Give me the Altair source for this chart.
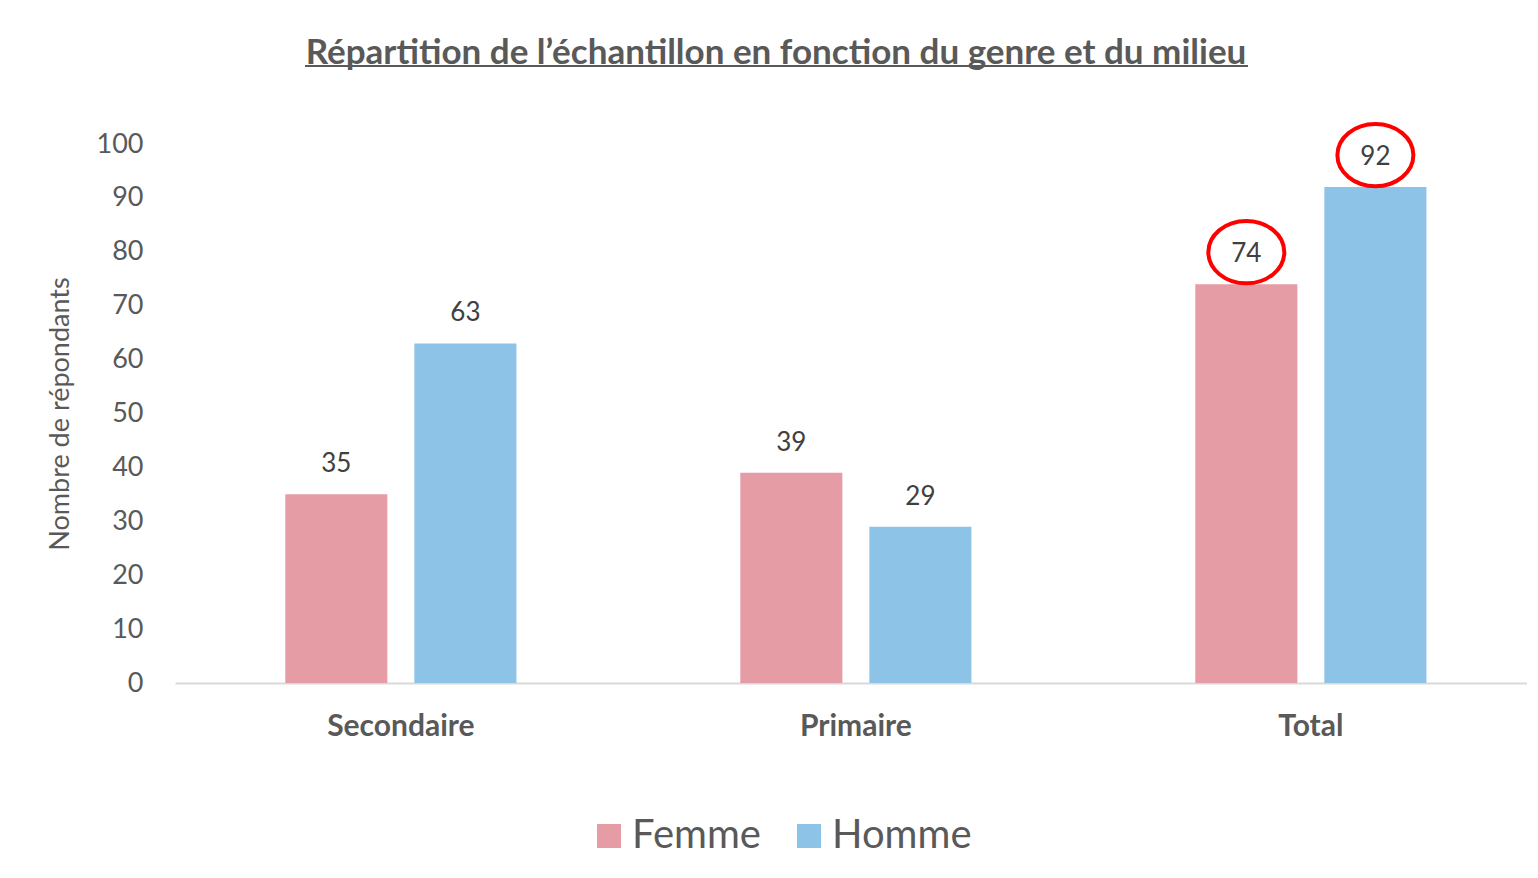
import altair as alt
import pandas as pd

categories = ["Secondaire", "Primaire", "Total"]
genres = ["Femme", "Homme"]
femme = [35, 39, 74]
homme = [63, 29, 92]
highlighted = ["Total"]

colors = ["#E59CA5", "#8CC3E6"]
FONT = "Lato"
GREY = "#595959"

rows = []
for c, f, h in zip(categories, femme, homme):
    rows.append({"cat": c, "genre": "Femme", "val": f})
    rows.append({"cat": c, "genre": "Homme", "val": h})
df = pd.DataFrame(rows)

W, H = 1352, 539

x = alt.X("cat:N", sort=categories, title=None,
          scale=alt.Scale(paddingInner=0.492, paddingOuter=0.2317, align=0.523),
          axis=alt.Axis(labelAngle=0, labelFontSize=30, labelFontWeight="bold",
                        labelColor=GREY, labelFont=FONT, labelPadding=28,
                        domainColor="#D9D9D9", domainWidth=2, ticks=False))
xoff = alt.XOffset("genre:N", sort=genres, scale=alt.Scale(paddingInner=0.209, paddingOuter=0))
y = alt.Y("val:Q", title="Nombre de répondants",
          scale=alt.Scale(domain=[0, 100]),
          axis=alt.Axis(values=list(range(0, 101, 10)), grid=False, domain=False, ticks=False,
                        labelFontSize=27, labelColor=GREY, labelFont=FONT, labelPadding=32,
                        titleFontSize=27, titleFont=FONT, titleColor=GREY,
                        titleFontWeight="normal", titlePadding=22))
color = alt.Color("genre:N", sort=genres,
                  scale=alt.Scale(domain=genres, range=colors),
                  legend=alt.Legend(title=None, orient="none", direction="horizontal",
                                    legendX=414, legendY=672, symbolType="square",
                                    symbolSize=576, symbolStrokeWidth=0, labelFontSize=40,
                                    labelFont=FONT, labelColor=GREY, labelOffset=3,
                                    columnPadding=28, padding=0, symbolOpacity=1))

base = alt.Chart(df)
bars = base.mark_bar().encode(x=x, xOffset=xoff, y=y, color=color)
labels = base.mark_text(dy=-30, baseline="middle", fontSize=26, font=FONT,
                        color="#404040").encode(x=x, xOffset=xoff, y="val:Q", text="val:Q")

ell_path = ("M 1 0 C 1 0.4529 0.5523 0.82 0 0.82 C -0.5523 0.82 -1 0.4529 -1 0 "
            "C -1 -0.4529 -0.5523 -0.82 0 -0.82 C 0.5523 -0.82 1 -0.4529 1 0 Z")
ellipses = base.transform_filter(
    alt.FieldOneOfPredicate(field="cat", oneOf=highlighted)
).mark_point(shape=ell_path, size=5776, filled=False, stroke="#FF0000",
             strokeWidth=4, opacity=1, yOffset=-32).encode(x=x, xOffset=xoff, y="val:Q")

underline = alt.Chart(pd.DataFrame({"a": [0]})).mark_rule(
    color=GREY, strokeWidth=2).encode(x=alt.value(130), x2=alt.value(1073), y=alt.value(-78))

chart = alt.layer(bars, labels, ellipses, underline).properties(
    width=W, height=H,
    background="white",
    title=alt.TitleParams("Répartition de l’échantillon en fonction du genre et du milieu",
                          fontSize=35, font=FONT, fontWeight="bold", color=GREY,
                          anchor="middle", frame="group", dx=-75, offset=-6),
    autosize=alt.AutoSizeParams(type="none"),
    padding={"left": 167, "top": 136, "right": 0, "bottom": 180},
).configure_view(strokeWidth=0, stroke="transparent")

chart.save("out.html", embed_options={"renderer": "svg", "actions": False})
